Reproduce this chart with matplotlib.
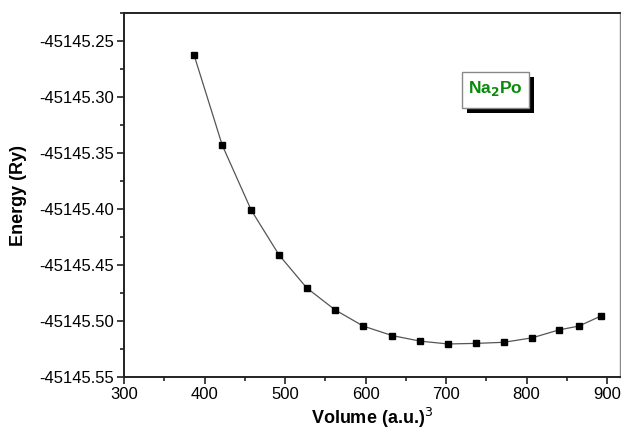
import matplotlib
matplotlib.use('Agg')
import matplotlib.pyplot as plt
import matplotlib.patches as patches
from matplotlib.ticker import MultipleLocator, FormatStrFormatter

plt.rcParams['font.family'] = ['Liberation Sans', 'DejaVu Sans']

# data
volume = [387, 422, 458, 492.5, 527, 562, 597, 633, 668, 702.5, 737, 772, 807, 840, 865, 892.5]
energy = [-45145.2625, -45145.343, -45145.401, -45145.441, -45145.4705, -45145.490,
          -45145.5045, -45145.513, -45145.518, -45145.5205, -45145.520, -45145.519,
          -45145.515, -45145.508, -45145.5045, -45145.4955]
x_ticks = [300, 400, 500, 600, 700, 800, 900]
y_ticks = [-45145.55, -45145.50, -45145.45, -45145.40, -45145.35, -45145.30, -45145.25]

fig = plt.figure(figsize=(6.21, 4.32), dpi=100)
ax = fig.add_axes([124 / 621, 1 - 377 / 432, 496 / 621, 364 / 432])

ax.plot(volume, energy, color='#555555', linewidth=0.9, zorder=2)
ax.plot(volume, energy, linestyle='none', marker='s', markersize=4,
        color='black', zorder=3)

ax.set_xlim(300, 916)
ax.set_ylim(-45145.55, -45145.225)
ax.set_xticks(x_ticks)
ax.set_yticks(y_ticks)
ax.xaxis.set_minor_locator(MultipleLocator(50))
ax.yaxis.set_minor_locator(MultipleLocator(0.025))
ax.yaxis.set_major_formatter(FormatStrFormatter('%.2f'))

ax.tick_params(which='both', direction='out', top=False, right=False,
               labelsize=12, width=1.2, color='#222222', pad=2)
ax.tick_params(which='major', length=5)
ax.tick_params(which='minor', length=3)

for side in ['left', 'bottom', 'top']:
    ax.spines[side].set_linewidth(1.4)
    ax.spines[side].set_color('#222222')
ax.spines['right'].set_linewidth(1.0)
ax.spines['right'].set_color('#888888')

ax.set_xlabel('Volume (a.u.)$^3$', fontsize=13, fontweight='bold', labelpad=3)
ax.set_ylabel('Energy (Ry)', fontsize=13, fontweight='bold', labelpad=9)

# label box with drop shadow (figure pixel coords)
def fig_box(x0, y0, x1, y1, **kw):
    r = patches.Rectangle((x0 / 621, 1 - y1 / 432), (x1 - x0) / 621, (y1 - y0) / 432,
                          transform=fig.transFigure, **kw)
    fig.add_artist(r)

fig_box(467, 77, 534, 113, facecolor='black', edgecolor='none', zorder=5)
fig_box(462, 72, 529, 108, facecolor='white', edgecolor='#888888', linewidth=1.0, zorder=6)
fig.text(495.5 / 621, 1 - 89 / 432, 'Na$_\\mathbf{2}$Po', fontsize=12.5, fontweight='bold',
         color='#0a8a0a', ha='center', va='center', zorder=7)

fig.savefig('out.png', dpi=100)
